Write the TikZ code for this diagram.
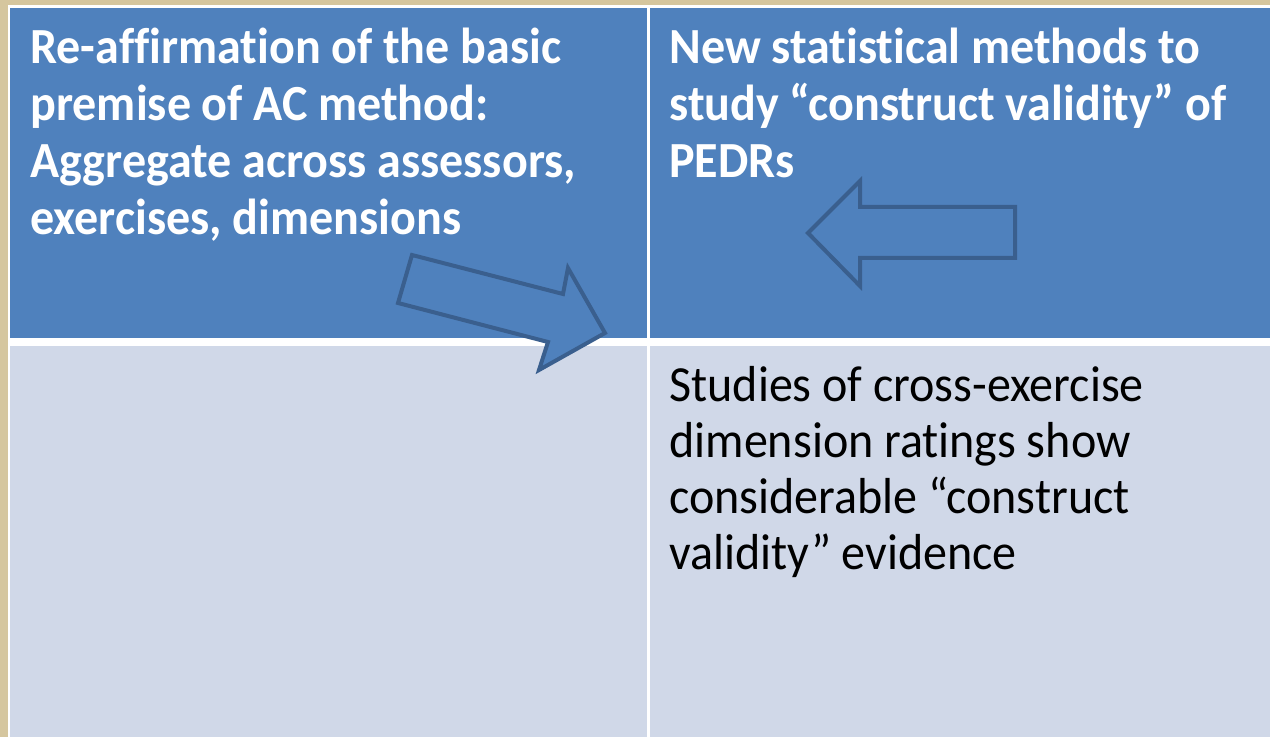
\documentclass[tikz,border=0pt]{standalone}
\usepackage{fontspec}
\setmainfont[Ligatures=NoCommon,FakeStretch=0.95]{Carlito}
\definecolor{slidebg}{HTML}{D5C69E}
\definecolor{headblue}{HTML}{4F81BD}
\definecolor{bodyblue}{HTML}{D0D8E8}
\definecolor{arrowline}{HTML}{3A5F8E}
\tikzset{
  celltext/.style={anchor=north west,inner sep=0pt,align=left,text width=620,
    execute at begin node={\spaceskip=0.21em\relax}},
  headtext/.style={celltext,text=white,font=\fontsize{25.3}{28.5}\selectfont\bfseries},
  bodytext/.style={celltext,text=black,font=\fontsize{25.3}{28}\selectfont},
  blockarrow/.style={draw=arrowline,line width=2pt,fill=headblue,line join=miter}
}
\begin{document}
\begin{tikzpicture}[x=0.5pt,y=-0.5pt]
  \useasboundingbox (0,0) rectangle (1270,737);
  \fill[slidebg] (0,0) rectangle (1270,737);
  \fill[white] (8,5) rectangle (1270,737);

  % table cells
  \fill[headblue] (10,8) rectangle (647,338);
  \fill[headblue] (650,8) rectangle (1270,338);
  \fill[bodyblue] (10,346) rectangle (647,737);
  \fill[bodyblue] (650,346) rectangle (1270,737);

  \node[headtext] (reaffirm) at (30,28) {Re-affirmation of the basic\\premise of AC method:\\Aggregate across assessors,\\exercises, dimensions};
  \node[headtext] (newstat) at (669,28) {New statistical methods to\\study “construct validity” of\\PEDRs};
  \node[bodytext] (studies) at (669,366) {Studies of cross-exercise\\dimension ratings show\\considerable “construct\\validity” evidence};

  % block arrows
  \draw[blockarrow] (412,255) -- (563,294) -- (568,268) -- (605,333)
    -- (539,370) -- (548,342) -- (398,303) -- cycle;
  \draw[blockarrow] (808,233) -- (860,181) -- (860,207) -- (1015,207)
    -- (1015,258) -- (860,258) -- (860,286) -- cycle;
\end{tikzpicture}
\end{document}
